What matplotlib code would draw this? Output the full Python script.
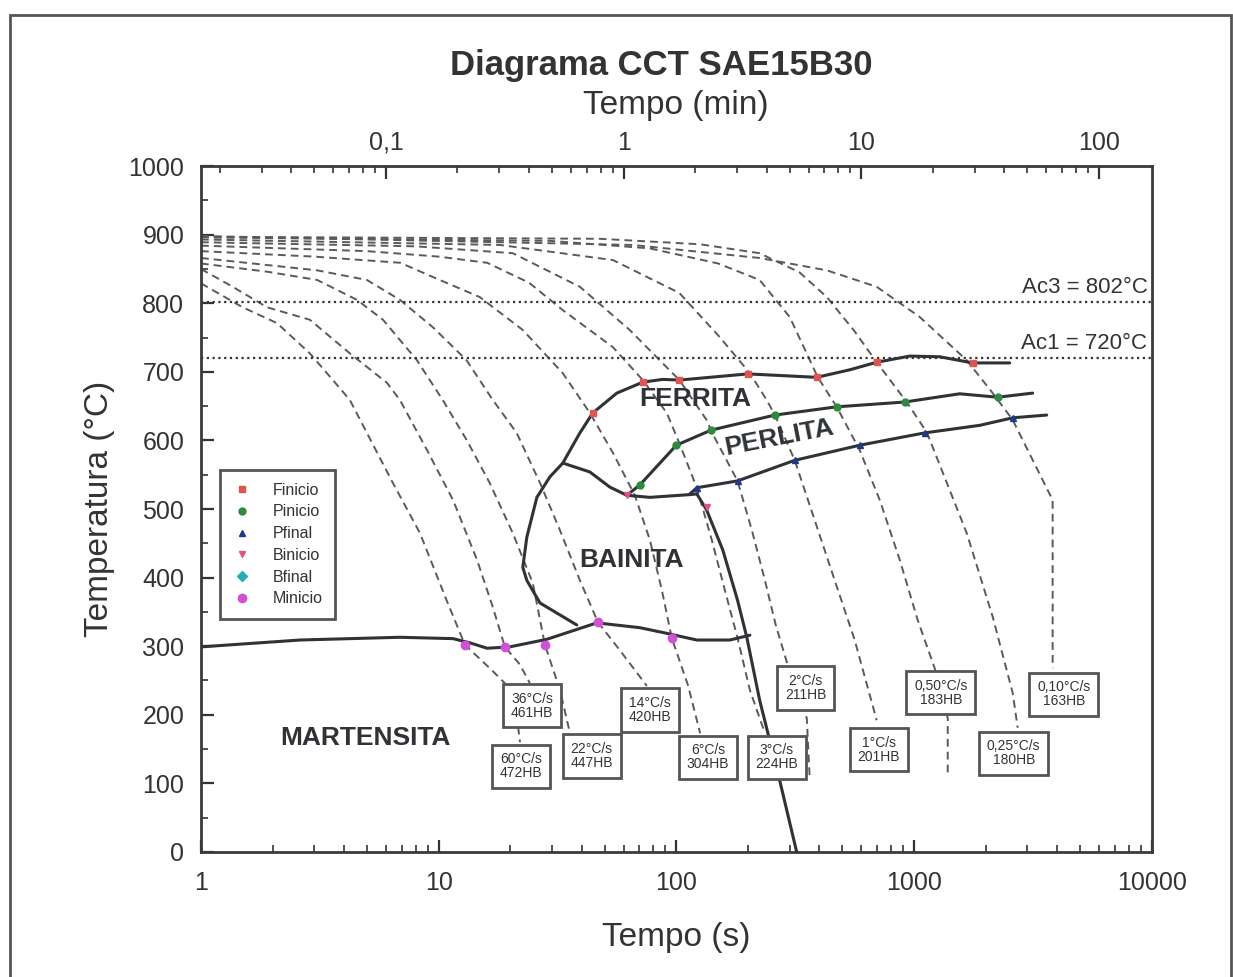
import matplotlib.pyplot as plt
import matplotlib.ticker as mticker
from matplotlib.lines import Line2D
from matplotlib.patches import Rectangle

plt.rcParams['font.family'] = ['Liberation Sans', 'DejaVu Sans']

# curvas de resfriamento: tempo (s) e temperatura (C)
c60_t = [1, 1.50, 2.09, 2.87, 3.59, 4.23, 4.99, 6.42, 8.34, 10.8, 12.9, 16.4, 19.0, 20.9, 22.0]
c60_T = [829, 794, 771, 727, 688, 659, 611, 538, 465, 367, 302, 268, 246, 222, 160]
c36_t = [1, 1.36, 1.90, 2.87, 4.23, 6.06, 6.87, 8.93, 11.5, 14.5, 16.9, 19.0, 22.0, 24.2]
c36_T = [850, 824, 794, 776, 727, 684, 659, 586, 513, 426, 357, 299, 273, 246]
c22_t = [1, 1.9, 3.08, 4.53, 5.83, 8.10, 10.4, 13.1, 16.4, 20.5, 24.9, 28.0, 32.4, 35.7]
c22_T = [858, 846, 834, 805, 776, 717, 659, 601, 538, 465, 392, 302, 236, 173]
c14_t = [1, 3.08, 4.99, 6.87, 9.46, 13.1, 16.9, 21.3, 26.7, 32.4, 39.3, 46.8, 57.9, 75.2]
c14_T = [866, 848, 834, 805, 765, 717, 659, 611, 538, 469, 396, 335, 294, 242]
c6_t = [1, 3.0, 6.9, 9.5, 14.9, 22.6, 33.3, 43.3, 54.1, 66.9, 77.4, 86.9, 95.7, 112, 126]
c6_T = [876, 868, 859, 838, 809, 761, 698, 640, 582, 520, 455, 382, 312, 243, 173]
c3_t = [1, 5.0, 10.0, 16.0, 24.0, 33.3, 54.1, 72.3, 91.2, 103, 122, 141, 160, 181, 204, 236]
c3_T = [884, 876, 868, 859, 830, 790, 736, 688, 640, 596, 531, 455, 382, 312, 236, 173]
c2_t = [1, 8.0, 20.5, 39.3, 63.7, 103, 134, 141, 181, 208, 236, 262, 294, 354, 364]
c2_T = [889, 883, 873, 824, 761, 688, 630, 612, 541, 469, 396, 331, 273, 195, 109]
c1_t = [1, 18.1, 54.1, 103, 152, 204, 240, 260, 315, 382, 464, 563, 697]
c1_T = [893, 885, 863, 815, 751, 698, 659, 637, 571, 484, 396, 309, 192]
c050_t = [1, 29.4, 77.4, 150, 224, 300, 394, 473, 591, 718, 871, 1037, 1222, 1387, 1387]
c050_T = [896, 891, 880, 858, 834, 780, 692, 649, 586, 513, 426, 338, 268, 195, 115]
c025_t = [1, 47.7, 126, 224, 330, 430, 560, 697, 932, 1132, 1667, 2144, 2602, 2732]
c025_T = [897, 894, 886, 873, 845, 809, 760, 714, 656, 612, 465, 343, 232, 181]
c010_t = [1, 65.6, 224, 430, 697, 1057, 1667, 2144, 2602, 3833, 3833]
c010_T = [898, 885, 866, 848, 824, 780, 717, 669, 630, 513, 268]

rates = ['60', '36', '22', '14', '6', '3', '2', '1', '0,50', '0,25', '0,10']
hardness = [472, 461, 447, 420, 304, 224, 211, 201, 183, 180, 163]
box_t = [22.2, 24.7, 44.1, 77.4, 136, 265, 350, 711, 1296, 2628, 4266]
box_T = [125, 213, 140, 207, 138, 138, 239, 149, 232, 144, 230]

# linhas de transformacao
ferr_t = [38.1, 26.7, 23.5, 22.6, 23.5, 25.9, 29.4, 33.3, 39.3, 44.5, 56.2, 72.3, 87.7,
          103, 200, 390, 537, 697, 960, 1283, 1766, 2528]
ferr_T = [331, 363, 396, 415, 459, 517, 547, 567, 611, 640, 669, 685, 689,
          688, 697, 692, 703, 714, 723, 722, 713, 713]
bain_top_t = [33.3, 43.3, 52.5, 61.9, 77.4, 114, 122]
bain_top_T = [567, 554, 532, 520, 517, 521, 522]
bain_end_t = [122, 134, 157, 181, 198, 224, 272, 321]
bain_end_T = [522, 499, 440, 367, 313, 222, 105, 0]
perl_ini_t = [61.9, 70.2, 100, 140, 260, 473, 914, 1558, 2250, 3158]
perl_ini_T = [520, 535, 593, 615, 637, 649, 656, 668, 663, 669]
perl_fim_t = [114, 122, 181, 315, 591, 1110, 1891, 2602, 3617]
perl_fim_T = [522, 531, 541, 571, 593, 611, 622, 633, 637]
ms_t = [1, 2.61, 6.87, 11.5, 13.5, 16.0, 19.9, 28.5, 46.3, 70.2, 87.7, 122, 168, 204]
ms_T = [299, 309, 313, 311, 305, 297, 299, 310, 334, 327, 320, 309, 309, 316]

# pontos medidos
fin_t = [44.5, 72.3, 103, 200, 390, 697, 1766]
fin_T = [640, 685, 688, 697, 692, 714, 713]
pin_t = [70.2, 100, 140, 260, 473, 914, 2250]
pin_T = [535, 593, 615, 637, 649, 656, 663]
pfin_t = [122, 181, 315, 591, 1110, 2602]
pfin_T = [531, 541, 571, 593, 611, 633]
bin_t = [61.9, 134]
bin_T = [520, 503]
min_t = [12.9, 19.0, 28.0, 46.8, 95.7]
min_T = [302, 299, 302, 335, 312]

ac3 = 802
ac1 = 720

fig = plt.figure(figsize=(12.33, 9.77), dpi=100)
ax = fig.add_axes([0.163, 0.128, 0.771, 0.702])

curves = [(c60_t, c60_T), (c36_t, c36_T), (c22_t, c22_T), (c14_t, c14_T), (c6_t, c6_T),
          (c3_t, c3_T), (c2_t, c2_T), (c1_t, c1_T), (c050_t, c050_T),
          (c025_t, c025_T), (c010_t, c010_T)]
for t, T in curves:
    ax.plot(t, T, color='#5a5a5a', lw=1.4, ls=(0, (4, 2.6)), zorder=2)

ax.axhline(ac3, color='#333333', lw=1.6, ls=(0, (1, 1.6)), zorder=2)
ax.axhline(ac1, color='#333333', lw=1.6, ls=(0, (1, 1.6)), zorder=2)

line_kw = dict(color='#2f3236', lw=2.2, zorder=3, solid_capstyle='round')
ax.plot(ferr_t, ferr_T, **line_kw)
ax.plot(bain_top_t, bain_top_T, **line_kw)
ax.plot(bain_end_t, bain_end_T, **line_kw)
ax.plot(perl_ini_t, perl_ini_T, **line_kw)
ax.plot(perl_fim_t, perl_fim_T, **line_kw)
ax.plot(ms_t, ms_T, **line_kw)

ax.plot(fin_t, fin_T, 's', color='#e4544f', ms=5, zorder=4)
ax.plot(pin_t, pin_T, 'o', color='#2e8a3c', ms=5, zorder=4)
ax.plot(pfin_t, pfin_T, '^', color='#1f3a8a', ms=5, zorder=4)
ax.plot(bin_t, bin_T, 'v', color='#e0508c', ms=5, zorder=4)
ax.plot(min_t, min_T, 'o', color='#d24fd6', ms=6, zorder=4)

for rate, hb, t, T in zip(rates, hardness, box_t, box_T):
    ax.text(t, T, f'{rate}°C/s\n{hb}HB', fontsize=10, color='#333333',
            ha='center', va='center', linespacing=1.0, zorder=5,
            bbox=dict(boxstyle='square,pad=0.55', fc='white', ec='#555555', lw=2))

txt_kw = dict(fontsize=19, fontweight='bold', color='#2f3236', ha='center', va='center', zorder=5)
ax.text(120, 660, 'FERRITA', **txt_kw)
ax.text(270, 604, 'PERLITA', rotation=11, **txt_kw)
ax.text(65, 425, 'BAINITA', **txt_kw)
ax.text(4.9, 166, 'MARTENSITA', **txt_kw)

ax.text(9600, ac3 + 6, f'Ac3 = {ac3}°C', fontsize=16, color='#333333', ha='right', va='bottom')
ax.text(9600, ac1 + 6, f'Ac1 = {ac1}°C', fontsize=16, color='#333333', ha='right', va='bottom')

ax.set_xscale('log')
ax.set_xlim(1, 10000)
ax.set_ylim(0, 1000)
ax.xaxis.set_major_formatter(mticker.FuncFormatter(lambda v, p: f'{v:g}'))
ax.xaxis.set_minor_formatter(mticker.NullFormatter())
ax.yaxis.set_major_locator(mticker.MultipleLocator(100))
ax.yaxis.set_minor_locator(mticker.MultipleLocator(50))
ax.tick_params(which='both', direction='in', labelsize=18, colors='#333333')
ax.tick_params(which='major', length=9, width=1.6)
ax.tick_params(which='minor', length=5, width=1.2)
ax.tick_params(axis='x', pad=14)
ax.tick_params(axis='y', pad=12)
for sp in ax.spines.values():
    sp.set_linewidth(2)
    sp.set_color('#3a3a3a')

ax.set_xlabel('Tempo (s)', fontsize=24, color='#333333', labelpad=19)
ax.set_ylabel('Temperatura (°C)', fontsize=24, color='#333333', labelpad=10)

secax = ax.secondary_xaxis('top', functions=(lambda s: s / 60.0, lambda m: m * 60.0))
secax.set_xticks([0.1, 1, 10, 100])
secax.xaxis.set_major_formatter(mticker.FuncFormatter(lambda v, p: f'{v:g}'.replace('.', ',')))
secax.xaxis.set_minor_formatter(mticker.NullFormatter())
secax.tick_params(which='both', direction='in', labelsize=18, colors='#333333', pad=8)
secax.tick_params(which='major', length=9, width=1.6)
secax.tick_params(which='minor', length=5, width=1.2)
secax.set_xlabel('Tempo (min)', fontsize=24, color='#333333', labelpad=12)

fig.text(0.536, 0.933, 'Diagrama CCT SAE15B30', fontsize=25, fontweight='bold',
         color='#333333', ha='center', va='center')

handles = [
    Line2D([], [], ls='none', marker='s', color='#e4544f', ms=5),
    Line2D([], [], ls='none', marker='o', color='#2e8a3c', ms=5),
    Line2D([], [], ls='none', marker='^', color='#1f3a8a', ms=5),
    Line2D([], [], ls='none', marker='v', color='#e0508c', ms=5),
    Line2D([], [], ls='none', marker='D', color='#22b0b8', ms=5),
    Line2D([], [], ls='none', marker='o', color='#d24fd6', ms=6),
]
leg = ax.legend(handles, ['Finicio', 'Pinicio', 'Pfinal', 'Binicio', 'Bfinal', 'Minicio'],
                loc='upper left', bbox_to_anchor=(0.02, 0.557), fontsize=11.5,
                labelspacing=0.42, handlelength=1.2, handletextpad=1.3,
                borderpad=0.8, borderaxespad=0, fancybox=False, framealpha=1)
leg.get_frame().set_edgecolor('#555555')
leg.get_frame().set_linewidth(2)
for t in leg.get_texts():
    t.set_color('#333333')

fig.patches.append(Rectangle((10 / 1233, -0.02), 1221 / 1233, 0.985 + 0.02,
                             transform=fig.transFigure, fill=False,
                             ec='#555555', lw=2))

fig.savefig('out.png', dpi=100)
